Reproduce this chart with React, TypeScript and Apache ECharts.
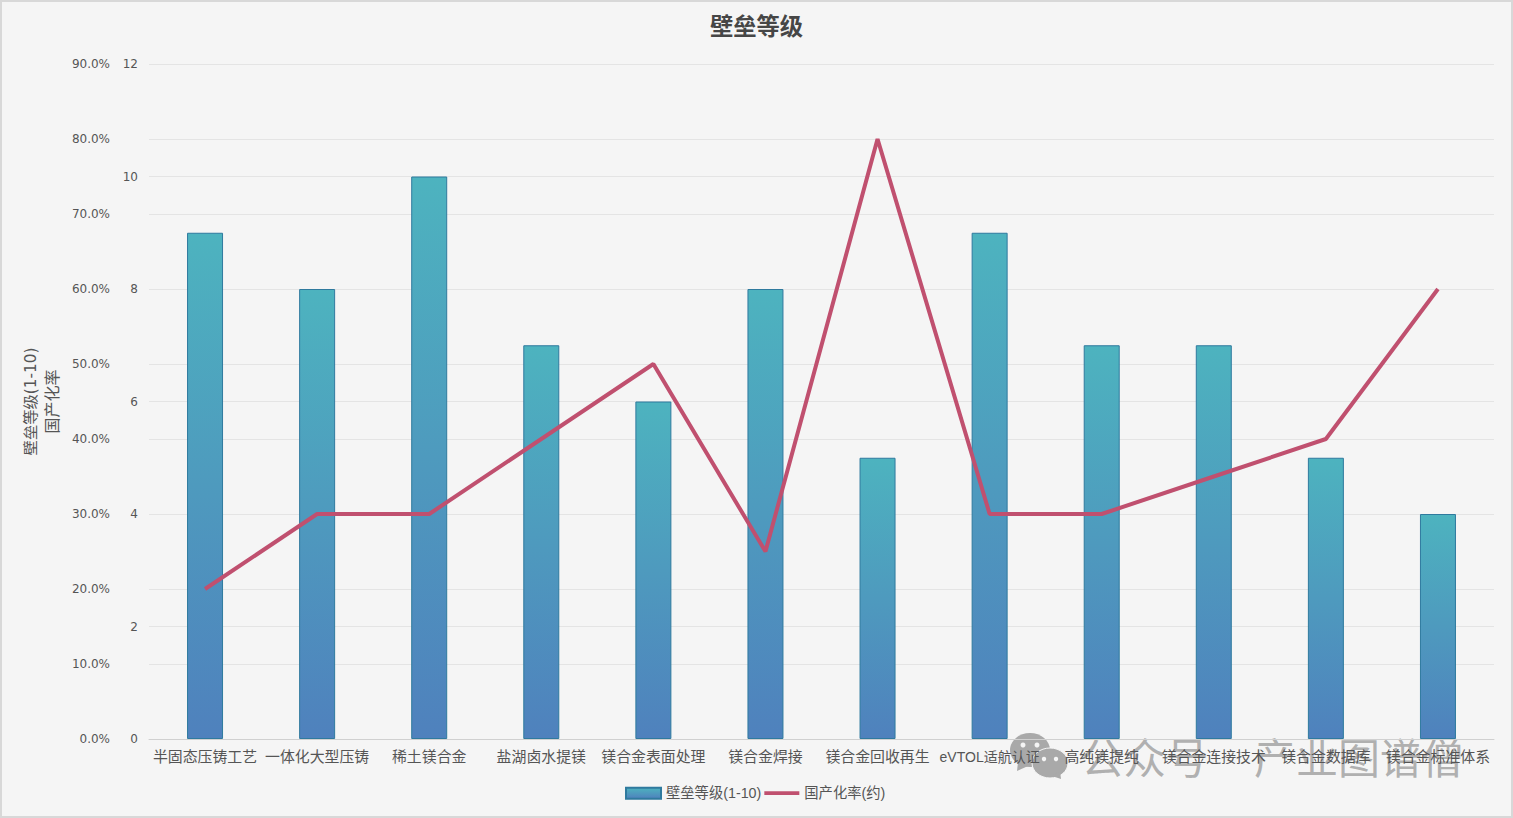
import React, { useEffect, useRef } from "react";
import * as echarts from "echarts";

const categories = ["半固态压铸工艺", "一体化大型压铸", "稀土镁合金", "盐湖卤水提镁", "镁合金表面处理", "镁合金焊接", "镁合金回收再生", "eVTOL适航认证", "高纯镁提纯", "镁合金连接技术", "镁合金数据库", "镁合金标准体系"];
const barrierLevel = [9, 8, 10, 7, 6, 8, 5, 9, 7, 7, 5, 4];
const localizationRate = [20, 30, 30, 40, 50, 25, 80, 30, 30, 35, 40, 60];

const CJK = "'Noto Sans CJK SC'";
const tickFont = `'DejaVu Sans', ${CJK}`;
const labelFont = `'Liberation Sans', ${CJK}`;
const wm = "#a9a9a9";

export default function App() {
  const ref = useRef<HTMLDivElement>(null);
  useEffect(() => {
    const chart = echarts.init(ref.current!, null, { renderer: "svg" });
    chart.setOption({
      animation: false,
      backgroundColor: "#f5f5f5",
      textStyle: { fontFamily: tickFont },
      title: {
        text: "壁垒等级",
        left: "center",
        top: 8,
        textStyle: { fontFamily: CJK, fontSize: 23.3, fontWeight: "bold", color: "#464646" },
      },
      legend: {
        top: 786,
        left: 625,
        padding: 0,
        itemWidth: 35,
        itemHeight: 11,
        itemGap: 3,
        textStyle: { fontFamily: labelFont, fontSize: 14.3, color: "#555" },
        data: [
          { name: "壁垒等级(1-10)", icon: "rect" },
          { name: "国产化率(约)", icon: "path://M0 0H36V4H0Z" },
        ],
      },
      grid: { left: 149, right: 19, top: 64, bottom: 79, containLabel: false },
      xAxis: {
        type: "category",
        data: categories.map((c) => (c.startsWith("eVTOL") ? { value: c, textStyle: { fontSize: 14 } } : c)),
        axisTick: { show: false },
        axisLine: { lineStyle: { color: "#d0d0d0" } },
        axisLabel: { interval: 0, fontFamily: labelFont, fontSize: 14.9, color: "#555", margin: 11 },
      },
      yAxis: [
        {
          type: "value",
          min: 0,
          max: 12,
          interval: 2,
          name: "壁垒等级(1-10)",
          nameLocation: "middle",
          nameGap: 110,
          nameTextStyle: { fontSize: 15.3, color: "#555", fontFamily: tickFont },
          axisLine: { show: false },
          axisTick: { show: false },
          axisLabel: { fontSize: 12, color: "#555", margin: 11, padding: [4, 0, 0, 0] },
          splitLine: { lineStyle: { color: "#e4e4e4" } },
        },
        {
          type: "value",
          position: "left",
          offset: 28,
          min: 0,
          max: 90,
          interval: 10,
          name: "国产化率",
          nameLocation: "middle",
          nameGap: 54,
          nameTextStyle: { fontSize: 16, color: "#555", fontFamily: tickFont },
          axisLine: { show: false },
          axisTick: { show: false },
          axisLabel: { fontSize: 12, color: "#555", margin: 11, padding: [4, 0, 0, 0], formatter: (v: number) => v.toFixed(1) + "%" },
          splitLine: { show: true, lineStyle: { color: "#e4e4e4" } },
        },
      ],
      series: [
        {
          name: "壁垒等级(1-10)",
          type: "bar",
          yAxisIndex: 0,
          data: barrierLevel,
          barWidth: 36,
          itemStyle: {
            color: new echarts.graphic.LinearGradient(0, 0, 0, 1, [
              { offset: 0, color: "#4db3bf" },
              { offset: 1, color: "#4f81bd" },
            ]),
            borderColor: "#2f7a9e",
            borderWidth: 1,
          },
        },
        {
          name: "国产化率(约)",
          type: "line",
          yAxisIndex: 1,
          data: localizationRate,
          symbol: "none",
          lineStyle: { color: "#c0506f", width: 4 },
          itemStyle: { color: "#c0506f" },
        },
      ],
      graphic: [
        { type: "rect", z: -1, silent: true, shape: { x: 1, y: 1, width: 1511, height: 816 }, style: { fill: "none", stroke: "#d8d8d8", lineWidth: 2 } },
        {
          type: "group",
          silent: true,
          z: 100,
          children: [
            { type: "ellipse", shape: { cx: 1030, cy: 750, rx: 20, ry: 17 }, style: { fill: wm } },
            { type: "polygon", shape: { points: [[1018, 762], [1017, 771], [1028, 766]] }, style: { fill: wm } },
            { type: "circle", shape: { cx: 1023, cy: 745, r: 2.5 }, style: { fill: "#f5f5f5" } },
            { type: "circle", shape: { cx: 1037, cy: 745, r: 2.5 }, style: { fill: "#f5f5f5" } },
            { type: "ellipse", shape: { cx: 1050, cy: 763, rx: 18, ry: 15 }, style: { fill: wm, stroke: "#f5f5f5", lineWidth: 1 } },
            { type: "polygon", shape: { points: [[1052, 776], [1061, 779], [1060, 771]] }, style: { fill: wm } },
            { type: "circle", shape: { cx: 1044, cy: 759, r: 2.2 }, style: { fill: "#f5f5f5" } },
            { type: "circle", shape: { cx: 1056, cy: 759, r: 2.2 }, style: { fill: "#f5f5f5" } },
            { type: "text", x: 1081, y: 734, style: { text: "公众号", fontFamily: CJK, fontSize: 42.5, fill: wm, opacity: 0.92 } },
            { type: "text", x: 1254, y: 734, style: { text: "产业图谱僧", fontFamily: CJK, fontSize: 42, fill: wm, opacity: 0.92 } },
          ],
        },
      ],
    });
    return () => chart.dispose();
  }, []);
  return (
    <div style={{ position: "absolute", left: 0, top: 0, width: 1513, height: 818 }}>
      <div ref={ref} style={{ width: 1513, height: 818 }} />
    </div>
  );
}
